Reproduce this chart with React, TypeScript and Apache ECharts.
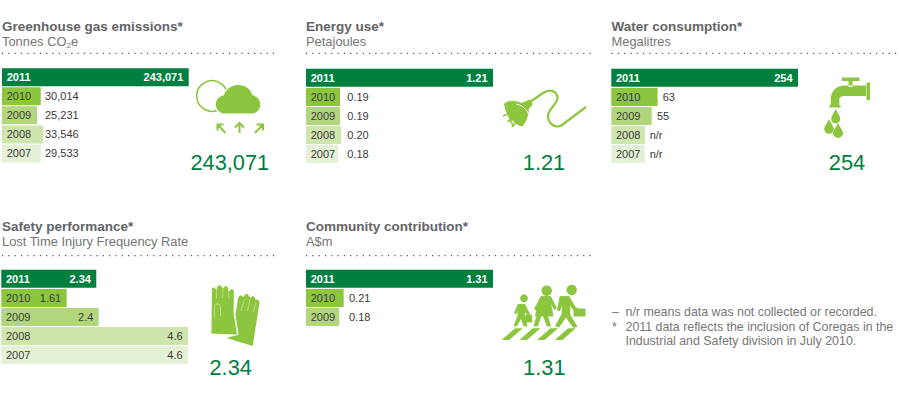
import React, { useEffect, useRef } from "react";
import * as echarts from "echarts";

// Values as printed in the reference.
const ghgYears = ["2011", "2010", "2009", "2008", "2007"];
const ghgLabels = ["243,071", "30,014", "25,231", "33,546", "29,533"];
// The reference does not draw its short bars to scale: these are the lengths, in axis units.
const ghgLengths = [243071, 50430, 45600, 53800, 50430];

const energyYears = ["2011", "2010", "2009", "2008", "2007"];
const energyLabels = ["1.21", "0.19", "0.19", "0.20", "0.18"];
const energyLengths = [1.21, 0.22, 0.22, 0.2265, 0.207];

const waterYears = ["2011", "2010", "2009", "2008", "2007"];
const waterLabels = ["254", "63", "55", "n/r", "n/r"];
const waterLengths = [254, 63, 55, 45.8, 45.8];

const safetyYears = ["2011", "2010", "2009", "2008", "2007"];
const safetyLabels = ["2.34", "1.61", "2.4", "4.6", "4.6"];
const safetyLengths = [2.34, 1.61, 2.4, 4.6, 4.6];

const communityYears = ["2011", "2010", "2009"];
const communityLabels = ["1.31", "0.21", "0.18"];
const communityLengths = [1.31, 0.264, 0.233];

const FONT = '"Liberation Sans", Arial, sans-serif';
const GREEN = "#8cc63f";
const DARK = "#00803e";
const rowColors = [DARK, "#8cc63f", "#b1d67c", "#cfe5ae", "#e5f1d6"];

const CLOUD =
  "M224 113.5A9.2 9.2 0 0 1 224 95.2C225.5 89.5 231.5 85 238.5 85C245.5 85 251 89.5 252.5 95.3A9.2 9.2 0 0 1 252.5 113.5Z";

const ICONS: Record<string, string> = {
  cloudHalo: CLOUD,
  cloudBody: CLOUD,
  arrows:
    "M225.5 133L218 125M217.5 130.5V124.5H223.5M239.5 133V123.5M235 127.5L239.5 123L244 127.5M255 133L262.5 125M256.5 124.5H263V130.5",
  cord: "M530 102L543 93C549 89 556 90 557.5 97C558.5 104 548 108 548 116C548 124 556 129 562 125L586 107",
  plugHead:
    "M504.3 104C508.3 100.7 513.3 100 521.7 103.3L530 100L532.3 104L528.3 109.3C528.3 116.7 525 123.3 522.3 126C515 125 506.7 115 504.3 104Z",
  prongs: "M503 116L510 113M507.5 121.5L514.5 118M512 127L517 122M506 109L513 126",
  plugShine: "M516 104C521 105 526 108 528 113",
  tapBody:
    "M867 85.5H845C835 85.5 830.7 92 830.7 100V105H839.3V100C839.3 97 841 96 845 96H867ZM866.5 82.5H870V100H866.5ZM829.5 105H840.5V107.5H829.5ZM842 77.5H859.5V81H842ZM848.5 81H852.5V87H848.5Z",
  drops:
    "M835.7 109C837.7 113 840.2 116 840.2 119A4.5 4.5 0 0 1 831.2 119C831.2 116 833.7 113 835.7 109ZM829 119C831 123.5 833.8 126.5 833.8 129A4.8 4.8 0 0 1 824.2 129C824.2 126.5 827 123.5 829 119ZM838 123C840 127.5 843 130.5 843 133A5 5 0 0 1 833 133C833 130.5 836 127.5 838 123Z",
  gloveBack:
    "M226.5 338L238.5 334.5L235.5 315L238 298Q240.5 293 243 297L244 296Q247 291.5 249 296L250.5 298Q253 294 255 298L255.5 300Q259 298 259.5 303L252.7 346Z",
  gloveFront:
    "M211 334L211.5 289Q213.5 285 216 289L216.7 287Q219.5 282.5 222.3 287L223.3 288Q226 283 228.3 288L229.3 291Q232 286 234.3 291L234 313L237.5 335Z",
  gloveLines:
    "M216.5 289V298M222.8 287V298M228.8 288V299M214.5 318V308Q214 304 218 304Q220.5 304 220.5 308V316M241 311L244.5 299M247.5 311L250 299M253.5 312L256 302",
  child:
    "M518 304.5L525 304.5L529.5 314L527.5 315L525 311L524.5 316L527 326L524 326L521 318L516.5 326L514 326L518 316L518 309L516 314L514.5 313ZM525.7 315H531.7V322H525.7Z",
  woman:
    "M541 296.5L550.5 296.5L556.5 308L554.5 309.5L550.5 303L553 316L547.5 316L550.5 326L547 326L543.5 316L541 316L537.5 326L534 326L537 316L535.5 316L538 303L536.5 310L534.5 309Z",
  man: "M560 296.5L569 296.5L575 307L580 310L579 312L573 309.5L569.5 304L570 315L577 326.5L573.5 327.5L566 317L559 327L555.5 326L562 314L562.5 304L559.5 311L557.5 310ZM574 309H585V316H574Z",
  crossing:
    "M501.7 340L515 328.3H522.7L509.3 340ZM519.4 340L532.7 328.3H540.4L527 340ZM537.1 340L550.4 328.3H558.1L544.7 340ZM554.8 340L568.1 328.3H575.8L562.4 340Z",
};
Object.keys(ICONS).forEach((name) => {
  echarts.graphic.registerShape(name, echarts.graphic.extendPath(ICONS[name], {}));
});

type Panel = {
  years: string[];
  labels: string[];
  lengths: number[];
  left: number;
  top: number;
  width: number;
  valueX?: number[];
  inside?: boolean;
};

const panels: Panel[] = [
  { years: ghgYears, labels: ghgLabels, lengths: ghgLengths, left: 2, top: 67.7, width: 186.7, valueX: [0, 43, 43, 43, 43] },
  { years: energyYears, labels: energyLabels, lengths: energyLengths, left: 306, top: 68.3, width: 187, valueX: [0, 41.3, 41.3, 41.3, 41.3] },
  { years: waterYears, labels: waterLabels, lengths: waterLengths, left: 611.3, top: 68.3, width: 186.7, valueX: [0, 51.4, 45.7, 38.4, 38.4] },
  { years: safetyYears, labels: safetyLabels, lengths: safetyLengths, left: 1.3, top: 269.3, width: 186.7, inside: true },
  { years: communityYears, labels: communityLabels, lengths: communityLengths, left: 306, top: 269.3, width: 187, valueX: [0, 43, 43] },
];

const headers = [
  { x: 2, y: 26, line: 53.3, end: 276, title: "Greenhouse gas emissions*", sub: "Tonnes CO{s|2}e", big: "243,071", bigX: 229.8, bigY: 162 },
  { x: 306, y: 26, line: 53.3, end: 593, title: "Energy use*", sub: "Petajoules", big: "1.21", bigX: 544, bigY: 162 },
  { x: 611.5, y: 26, line: 53.3, end: 897, title: "Water consumption*", sub: "Megalitres", big: "254", bigX: 847, bigY: 162 },
  { x: 2, y: 226.7, line: 255.7, end: 276, title: "Safety performance*", sub: "Lost Time Injury Frequency Rate", big: "2.34", bigX: 230.7, bigY: 367.3 },
  { x: 306, y: 226.7, line: 255.7, end: 593, title: "Community contribution*", sub: "A$m", big: "1.31", bigX: 544.3, bigY: 367.3 },
];

const notes = [
  { mark: "–", text: "n/r means data was not collected or recorded.", y: 312.3 },
  { mark: "*", text: "2011 data reflects the inclusion of Coregas in the", y: 326.5 },
  { mark: "", text: "Industrial and Safety division in July 2010.", y: 340.5 },
];

const ROW = 19.05;

function buildOption() {
  const grid: any[] = [];
  const xAxis: any[] = [];
  const yAxis: any[] = [];
  const series: any[] = [];
  panels.forEach((p, i) => {
    grid.push({ left: p.left, top: p.top, width: p.width, height: ROW * p.years.length, show: false, containLabel: false });
    xAxis.push({ gridIndex: i, type: "value", min: 0, max: Math.max(...p.lengths), show: false });
    yAxis.push({ gridIndex: i, type: "category", inverse: true, data: p.years, show: false });
    series.push({
      type: "bar",
      name: "bars" + i,
      xAxisIndex: i,
      yAxisIndex: i,
      barWidth: 18,
      barGap: "-100%",
      silent: true,
      data: p.lengths.map((v, j) => ({
        value: v,
        itemStyle: { color: rowColors[j] },
        label: {
          show: true,
          position: "insideLeft",
          distance: 4.7,
          formatter: p.years[j],
          fontFamily: FONT,
          fontSize: 11,
          fontWeight: j === 0 ? "bold" : "normal",
          color: j === 0 ? "#ffffff" : "#3a3a3a",
        },
      })),
    });
    series.push({
      type: "bar",
      name: "values" + i,
      xAxisIndex: i,
      yAxisIndex: i,
      barWidth: 18,
      barGap: "-100%",
      silent: true,
      data: p.lengths.map((v, j) => {
        const insideBar = j === 0 || p.inside;
        return {
          value: v,
          itemStyle: { color: "transparent" },
          label: {
            show: true,
            position: insideBar ? "insideRight" : [p.valueX ? p.valueX[j] : 0, "50%"],
            distance: 5.4,
            align: insideBar ? "right" : "left",
            verticalAlign: "middle",
            formatter: p.labels[j],
            fontFamily: FONT,
            fontSize: 11,
            fontWeight: j === 0 ? "bold" : "normal",
            color: j === 0 ? "#ffffff" : "#3a3a3a",
          },
        };
      }),
    });
  });

  const graphic: any[] = [];
  headers.forEach((h) => {
    graphic.push({
      type: "text", x: h.x, y: h.y, silent: true,
      style: { text: h.title, fontFamily: FONT, fontSize: 13.5, fontWeight: "bold", fill: "#636466", verticalAlign: "middle" },
    });
    graphic.push({
      type: "text", x: h.x, y: h.y + 15, silent: true,
      style: {
        text: h.sub, fontFamily: FONT, fontSize: 12.9, fill: "#757575", verticalAlign: "middle",
        rich: { s: { fontFamily: FONT, fontSize: 8, fill: "#757575", padding: [8, 0, 0, 0] } },
      },
    });
    graphic.push({
      type: "line", silent: true,
      shape: { x1: h.x, y1: h.line, x2: h.end, y2: h.line },
      style: { stroke: "#555555", lineWidth: 1.2, lineDash: [1.2, 5.1] },
    });
    graphic.push({
      type: "text", x: h.bigX, y: h.bigY, silent: true,
      style: { text: h.big, fontFamily: FONT, fontSize: 21.8, fill: DARK, align: "center", verticalAlign: "middle" },
    });
  });
  notes.forEach((n) => {
    if (n.mark) {
      graphic.push({ type: "text", x: 612, y: n.y, silent: true, style: { text: n.mark, fontFamily: FONT, fontSize: 12.4, fill: "#777777", verticalAlign: "middle" } });
    }
    graphic.push({ type: "text", x: 625.5, y: n.y, silent: true, style: { text: n.text, fontFamily: FONT, fontSize: 12.4, fill: "#777777", verticalAlign: "middle" } });
  });

  const fill = { fill: GREEN };
  const bold = { fill: GREEN, stroke: GREEN, lineWidth: 0.9 };
  const line = (w: number, color = GREEN) => ({ fill: "none", stroke: color, lineWidth: w });
  graphic.push(
    { type: "circle", silent: true, shape: { cx: 212, cy: 96, r: 15.3 }, style: { fill: "none", stroke: GREEN, lineWidth: 1.5 } },
    { type: "cloudHalo", silent: true, style: { fill: "#ffffff", stroke: "#ffffff", lineWidth: 2.6 } },
    { type: "cloudBody", silent: true, style: fill },
    { type: "arrows", silent: true, style: line(2) },
    { type: "cord", silent: true, style: line(2.2) },
    { type: "prongs", silent: true, style: line(1.6) },
    { type: "plugHead", silent: true, style: bold },
    { type: "plugShine", silent: true, style: line(0.9, "#ffffff") },
    { type: "tapBody", silent: true, style: fill },
    { type: "drops", silent: true, style: fill },
    { type: "gloveBack", silent: true, style: fill },
    { type: "gloveFront", silent: true, style: { fill: GREEN, stroke: "#ffffff", lineWidth: 0.8 } },
    { type: "gloveLines", silent: true, style: line(0.6, "#d5e8b5") },
    { type: "circle", silent: true, shape: { cx: 524, cy: 298.3, r: 3.9 }, style: fill },
    { type: "circle", silent: true, shape: { cx: 546.7, cy: 290.7, r: 5.2 }, style: fill },
    { type: "circle", silent: true, shape: { cx: 571.7, cy: 290, r: 5.2 }, style: fill },
    { type: "child", silent: true, style: bold },
    { type: "woman", silent: true, style: bold },
    { type: "man", silent: true, style: bold },
    { type: "crossing", silent: true, style: fill }
  );

  return { animation: false, backgroundColor: "#ffffff", grid, xAxis, yAxis, series, graphic };
}

export default function App() {
  const ref = useRef<HTMLDivElement>(null);
  useEffect(() => {
    document.body.style.margin = "0";
    const chart = echarts.init(ref.current!, undefined, { renderer: "svg" });
    chart.setOption(buildOption() as any);
    return () => chart.dispose();
  }, []);
  return <div ref={ref} style={{ width: 899, height: 394 }} />;
}
